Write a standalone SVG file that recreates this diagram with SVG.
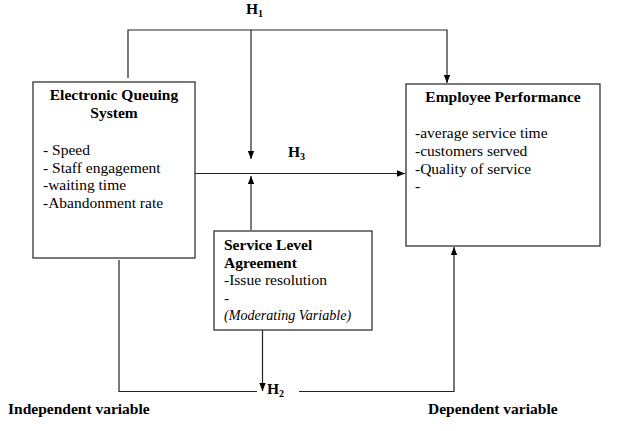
<svg xmlns="http://www.w3.org/2000/svg" width="622" height="431" viewBox="0 0 622 431" font-family="'Liberation Serif', 'Times New Roman', 'DejaVu Serif', serif">
<defs>
<marker id="ah" markerUnits="userSpaceOnUse" markerWidth="8" markerHeight="8" viewBox="0 0 8 8" refX="8" refY="4" orient="auto">
<path d="M0,0.8 L8,4 L0,7.2 Z" fill="#000"/>
</marker>
<style>
text{font-family:'Liberation Serif','Times New Roman','DejaVu Serif',serif;font-size:15.5px;fill:#000}
.b{font-weight:bold}
.i{font-style:italic;font-size:14.1px}
.box{fill:#fff;stroke:#333;stroke-width:1.3}
.ln{fill:none;stroke:#222;stroke-width:1.2}
.sub{font-size:10px}
</style>
</defs>
<rect width="622" height="431" fill="#fff"/>
<g id="connectors">
<path class="ln" d="M128,78 V30 H447 V83" marker-end="url(#ah)"/>
<path class="ln" d="M251,30 V159" marker-end="url(#ah)"/>
<path class="ln" d="M195,173.5 H405" marker-end="url(#ah)"/>
<path class="ln" d="M251,230 V176" marker-end="url(#ah)"/>
<path class="ln" d="M119,260 V391.5 H257"/>
<path class="ln" d="M262.5,330 V391" marker-end="url(#ah)"/>
<path class="ln" d="M299,391.5 H454 V247" marker-end="url(#ah)"/>
<text class="b" x="246" y="14">H<tspan class="sub" dy="3">1</tspan></text>
<text class="b" x="288" y="157">H<tspan class="sub" dy="3">3</tspan></text>
<text class="b" x="267" y="394">H<tspan class="sub" dy="3">2</tspan></text>
</g>
<g id="eqs">
<rect class="box" x="33" y="82" width="162" height="176"/>
<text class="b" x="114" y="100" text-anchor="middle">Electronic Queuing</text>
<text class="b" x="114" y="118" text-anchor="middle">System</text>
<text x="43" y="155">- Speed</text>
<text x="43" y="172.5">- Staff engagement</text>
<text x="43" y="190">-waiting time</text>
<text x="43" y="207.5">-Abandonment rate</text>
</g>
<g id="ep">
<rect class="box" x="406" y="84" width="194" height="162"/>
<text class="b" x="503" y="102" text-anchor="middle">Employee Performance</text>
<text x="415" y="138">-average service time</text>
<text x="415" y="156">-customers served</text>
<text x="415" y="173.5">-Quality of service</text>
<text x="415" y="191">-</text>
</g>
<g id="sla">
<rect class="box" x="214" y="231" width="158" height="99"/>
<text class="b" x="224" y="250">Service Level</text>
<text class="b" x="224" y="268">Agreement</text>
<text x="224" y="285">-Issue resolution</text>
<text x="224" y="302.5">-</text>
<text class="i" x="224" y="320">(Moderating Variable)</text>
</g>
<g id="labels">
<text class="b" x="8" y="414">Independent variable</text>
<text class="b" x="428" y="414">Dependent variable</text>
</g>
</svg>
